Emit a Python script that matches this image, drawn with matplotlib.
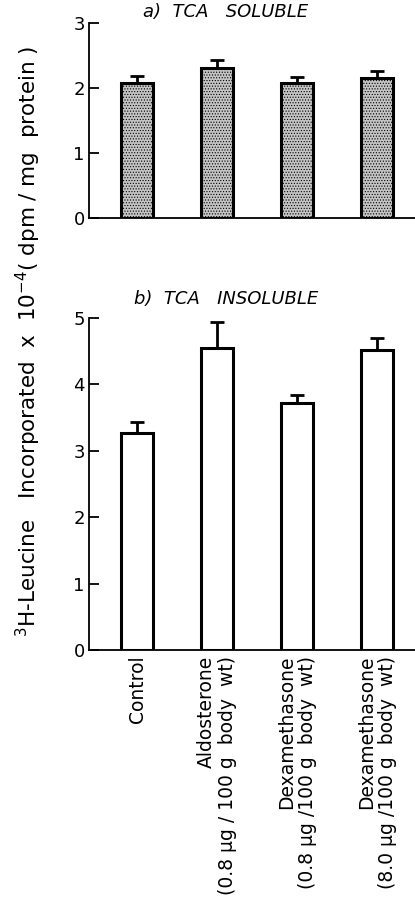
import matplotlib.pyplot as plt
import numpy as np

# values
categories = ['Control',
              'Aldosterone\n(0.8 \u00b5g / 100 g  body  wt)',
              'Dexamethasone\n(0.8 \u00b5g /100 g  body  wt)',
              'Dexamethasone\n(8.0 \u00b5g /100 g  body  wt)']
soluble = [2.08, 2.31, 2.08, 2.16]
soluble_err = [0.10, 0.12, 0.09, 0.10]
insoluble = [3.26, 4.54, 3.71, 4.52]
insoluble_err = [0.17, 0.40, 0.13, 0.18]

plt.rcParams['font.family'] = ['DejaVu Sans']
plt.rcParams['hatch.color'] = '#333333'
plt.rcParams['hatch.linewidth'] = 0.5

fig = plt.figure(figsize=(4.15, 9.06), dpi=100)
W, H = 415, 906
left = 89 / W
ax1 = fig.add_axes([left, 1 - 218 / H, 1 - left, (218 - 23) / H])
ax2 = fig.add_axes([left, 1 - 650 / H, 1 - left, (650 - 317.7) / H])

x = np.arange(len(categories))
bw = 0.41


def style(ax, ymax):
    for s in ['top', 'right']:
        ax.spines[s].set_visible(False)
    ax.spines['left'].set_linewidth(1.3)
    ax.spines['bottom'].set_linewidth(1.3)
    ax.set_xlim(-0.6, 3.475)
    ax.set_ylim(0, ymax)
    ax.set_yticks(range(ymax + 1))
    ax.tick_params(axis='y', direction='in', length=7, width=1.3,
                   labelsize=13, pad=3)
    ax.tick_params(axis='x', length=0)


ax1.bar(x, soluble, bw, color='#c4c4c4', edgecolor='black', linewidth=2.2,
        hatch='......', zorder=2)
ax1.errorbar(x, soluble, yerr=[np.zeros(4), soluble_err], fmt='none',
             ecolor='black', elinewidth=2, capsize=5, capthick=2, zorder=1)
style(ax1, 3)
ax1.set_xticks(x, [])
ax1.set_title('a)  TCA   SOLUBLE', style='italic', fontsize=13, pad=4,
              x=0.42)

ax2.bar(x, insoluble, bw, color='white', edgecolor='black', linewidth=2.2,
        zorder=2)
ax2.errorbar(x, insoluble, yerr=[np.zeros(4), insoluble_err], fmt='none',
             ecolor='black', elinewidth=2, capsize=5, capthick=2, zorder=1)
style(ax2, 5)
ax2.set_xticks(x, categories, rotation=90, fontsize=13.5,
               multialignment='right', linespacing=1.1)
ax2.tick_params(axis='x', pad=4)
ax2.set_title('b)  TCA   INSOLUBLE', style='italic', fontsize=13, pad=10,
              x=0.42)

fig.text(28 / W, 1 - 341 / H,
         r'$^3$H-Leucine   Incorporated  x  10$^{-4}$( dpm / mg  protein )',
         rotation=90, ha='center', va='center', fontsize=15.5)

fig.savefig('out.png', dpi=100)
